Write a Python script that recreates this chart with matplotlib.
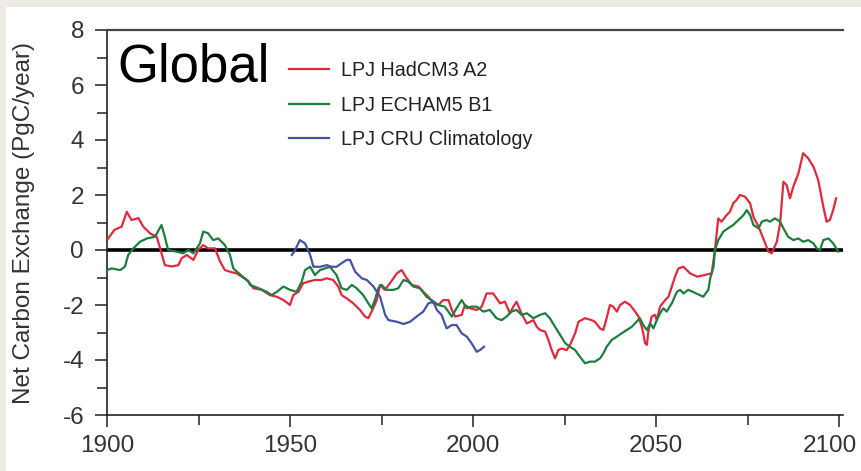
import matplotlib
matplotlib.use("Agg")
import matplotlib.pyplot as plt
import matplotlib.transforms as mtransforms
from matplotlib.patches import Rectangle
from matplotlib.ticker import MultipleLocator

plt.rcParams['font.family'] = ['Liberation Sans', 'DejaVu Sans']
plt.rcParams['axes.unicode_minus'] = False

# LPJ driven by HadCM3 A2
had_years = [1900.0, 1902.0, 1904.0, 1905.4, 1906.7, 1908.6, 1909.9, 1911.8, 1913.6, 1914.9,
             1915.8, 1917.7, 1919.5, 1920.4, 1921.8, 1923.6, 1924.9, 1926.3, 1927.6, 1929.5,
             1930.9, 1932.2, 1933.6, 1935.4, 1937.2, 1938.4, 1940.0, 1942.3, 1944.5, 1946.4,
             1948.2, 1950.0, 1950.9, 1952.3, 1953.6, 1955.0, 1956.8, 1958.6, 1960.0, 1961.8,
             1963.2, 1964.1, 1965.5, 1967.3, 1969.1, 1970.5, 1971.4, 1972.3, 1973.7, 1974.6,
             1975.9, 1977.3, 1979.2, 1980.5, 1981.9, 1983.3, 1985.1, 1986.4, 1987.8, 1989.2,
             1990.5, 1991.9, 1993.3, 1994.2, 1995.1, 1996.9, 1997.8, 1999.2, 2001.0, 2002.4,
             2003.7, 2005.5, 2007.4, 2008.7, 2010.1, 2011.0, 2011.9, 2013.2, 2014.7, 2016.5,
             2017.4, 2018.3, 2019.7, 2020.6, 2021.5, 2022.4, 2023.3, 2024.2, 2025.6, 2026.5,
             2027.9, 2028.8, 2030.6, 2032.4, 2033.3, 2034.7, 2035.6, 2036.5, 2037.4, 2038.3,
             2039.3, 2040.2, 2041.5, 2042.9, 2044.3, 2045.2, 2046.1, 2046.5, 2047.0, 2047.5,
             2047.9, 2048.8, 2049.7, 2050.2, 2051.1, 2052.5, 2053.4, 2054.3, 2055.2, 2056.1,
             2057.5, 2058.4, 2059.3, 2061.3, 2063.3, 2065.2, 2066.1, 2067.0, 2067.9, 2069.3,
             2070.2, 2071.1, 2072.0, 2072.9, 2074.3, 2075.7, 2076.6, 2078.0, 2079.3, 2080.7,
             2081.6, 2083.0, 2083.9, 2084.8, 2085.7, 2086.6, 2087.5, 2088.9, 2090.2, 2091.6,
             2093.0, 2094.3, 2095.7, 2096.6, 2097.5, 2098.4, 2099.2]
had_flux = [0.36, 0.73, 0.85, 1.39, 1.09, 1.16, 0.85, 0.60, 0.48, -0.12,
            -0.55, -0.60, -0.55, -0.30, -0.18, -0.36, 0.00, 0.18, 0.06, 0.06,
            -0.42, -0.73, -0.79, -0.85, -1.00, -1.10, -1.39, -1.45, -1.64, -1.70,
            -1.82, -2.00, -1.64, -1.52, -1.21, -1.15, -1.09, -1.09, -1.03, -1.09,
            -1.33, -1.64, -1.76, -1.94, -2.18, -2.42, -2.48, -2.24, -1.82, -1.27,
            -1.45, -1.21, -0.85, -0.73, -1.03, -1.27, -1.33, -1.52, -1.70, -1.94,
            -2.00, -1.82, -1.82, -2.18, -2.42, -2.36, -2.00, -2.12, -2.18, -2.06,
            -1.58, -1.58, -1.94, -1.88, -2.30, -2.06, -1.88, -2.30, -2.67, -2.55,
            -2.79, -2.91, -2.97, -3.27, -3.64, -3.94, -3.64, -3.58, -3.64, -3.45,
            -3.03, -2.61, -2.48, -2.55, -2.61, -2.85, -2.91, -2.48, -2.00, -2.06,
            -2.24, -2.00, -1.88, -2.00, -2.24, -2.42, -2.79, -3.03, -3.39, -3.45,
            -2.97, -2.42, -2.36, -2.55, -2.06, -1.82, -1.70, -1.33, -0.97, -0.67,
            -0.61, -0.73, -0.85, -0.97, -0.91, -0.85, 0.00, 1.15, 1.03, 1.27,
            1.39, 1.70, 1.82, 2.00, 1.94, 1.70, 1.21, 0.85, 0.42, -0.06,
            -0.12, 0.30, 0.97, 2.48, 2.36, 1.88, 2.30, 2.79, 3.52, 3.33,
            3.03, 2.55, 1.58, 1.03, 1.09, 1.45, 1.88]

# LPJ driven by ECHAM5 B1
ech_years = [1900.0, 1901.3, 1903.6, 1904.9, 1905.8, 1907.2, 1909.0, 1910.9, 1913.1, 1914.9,
             1915.8, 1916.7, 1919.0, 1920.8, 1922.2, 1923.6, 1925.4, 1926.3, 1927.6, 1929.0,
             1930.4, 1932.2, 1933.6, 1934.5, 1936.3, 1938.6, 1939.1, 1941.4, 1943.6, 1945.0,
             1946.4, 1948.2, 1950.0, 1951.8, 1953.2, 1954.1, 1955.5, 1956.8, 1958.2, 1959.6,
             1960.9, 1962.7, 1964.1, 1965.5, 1966.9, 1968.2, 1970.0, 1971.4, 1972.3, 1973.2,
             1974.1, 1975.0, 1976.4, 1978.2, 1979.6, 1981.0, 1982.3, 1983.7, 1985.5, 1987.3,
             1988.7, 1990.5, 1992.3, 1994.2, 1995.5, 1996.9, 1998.3, 1999.6, 2001.0, 2002.8,
             2004.6, 2006.4, 2007.8, 2009.2, 2010.5, 2011.9, 2013.3, 2014.7, 2016.5, 2018.3,
             2019.7, 2021.0, 2022.4, 2023.8, 2025.2, 2026.5, 2027.9, 2029.2, 2030.6, 2032.0,
             2033.3, 2034.7, 2035.6, 2036.5, 2037.9, 2039.3, 2040.6, 2042.0, 2043.4, 2044.7,
             2045.6, 2046.5, 2047.5, 2048.4, 2049.3, 2050.2, 2051.1, 2052.0, 2052.9, 2054.3,
             2055.7, 2056.6, 2057.5, 2058.8, 2060.5, 2062.9, 2064.3, 2064.8, 2065.7, 2066.1,
             2067.0, 2068.4, 2069.7, 2071.1, 2072.5, 2073.9, 2074.8, 2075.7, 2076.6, 2078.0,
             2078.9, 2080.2, 2081.1, 2082.5, 2083.9, 2084.8, 2086.1, 2087.5, 2088.9, 2090.2,
             2091.6, 2093.0, 2093.9, 2094.8, 2095.7, 2097.1, 2098.4, 2099.8]
ech_flux = [-0.73, -0.67, -0.73, -0.61, -0.18, 0.06, 0.30, 0.42, 0.48, 0.91,
            0.48, 0.00, -0.06, -0.12, 0.00, -0.12, 0.24, 0.67, 0.61, 0.36,
            0.42, 0.18, -0.18, -0.67, -0.88, -1.15, -1.27, -1.39, -1.52, -1.64,
            -1.52, -1.33, -1.45, -1.52, -1.15, -0.73, -0.61, -0.91, -0.73, -0.67,
            -0.61, -0.91, -1.39, -1.45, -1.27, -1.39, -1.64, -1.94, -2.12, -1.82,
            -1.39, -1.27, -1.45, -1.45, -1.39, -1.09, -1.15, -1.33, -1.39, -1.70,
            -1.82, -2.00, -2.06, -2.42, -2.12, -1.82, -2.12, -2.06, -2.06, -2.24,
            -2.18, -2.48, -2.55, -2.42, -2.24, -2.18, -2.36, -2.30, -2.48, -2.36,
            -2.30, -2.48, -2.79, -3.09, -3.39, -3.52, -3.64, -3.88, -4.12, -4.06,
            -4.06, -3.94, -3.76, -3.52, -3.27, -3.15, -3.03, -2.91, -2.79, -2.61,
            -2.48, -2.73, -2.91, -2.67, -2.85, -2.55, -2.30, -2.12, -2.24, -1.94,
            -1.52, -1.45, -1.58, -1.45, -1.55, -1.70, -1.45, -1.03, -0.61, 0.00,
            0.36, 0.67, 0.79, 0.91, 1.09, 1.27, 1.45, 1.27, 0.91, 0.79,
            1.03, 1.09, 1.03, 1.15, 1.03, 0.79, 0.48, 0.36, 0.42, 0.30,
            0.36, 0.24, 0.06, 0.00, 0.36, 0.42, 0.24, -0.06]

# LPJ driven by CRU climatology
cru_years = [1950.5, 1951.4, 1952.7, 1954.1, 1955.5, 1956.4, 1958.2, 1960.0, 1961.4, 1962.7,
             1964.1, 1965.5, 1966.4, 1967.8, 1969.6, 1971.0, 1972.8, 1974.6, 1976.0, 1976.9,
             1979.2, 1981.0, 1982.8, 1984.6, 1986.4, 1987.8, 1989.2, 1990.1, 1991.4, 1992.8,
             1994.2, 1995.5, 1996.9, 1998.3, 1999.6, 2001.0, 2001.9, 2003.0]
cru_flux = [-0.18, 0.00, 0.36, 0.24, -0.18, -0.61, -0.61, -0.55, -0.61, -0.61,
            -0.48, -0.36, -0.36, -0.79, -1.03, -1.09, -1.33, -1.70, -2.36, -2.55,
            -2.61, -2.69, -2.61, -2.42, -2.24, -1.94, -1.88, -2.18, -2.36, -2.85,
            -2.73, -2.73, -3.03, -3.15, -3.39, -3.70, -3.64, -3.52]

series_labels = ['LPJ HadCM3 A2', 'LPJ ECHAM5 B1', 'LPJ CRU Climatology']
series_colors = ['#e3283c', '#1c7f3e', '#4652a2']

x_ticks = [1900, 1950, 2000, 2050, 2100]
y_ticks = [-6, -4, -2, 0, 2, 4, 6, 8]

W, H = 861, 471
fig = plt.figure(figsize=(W / 100, H / 100), dpi=100, facecolor='white')

# pale frame strips along the top and left edges
beige = '#eeebe3'
fig.patches.append(Rectangle((0, 1 - 7 / H), 1, 7 / H, transform=fig.transFigure,
                             facecolor=beige, edgecolor='none', zorder=0))
fig.patches.append(Rectangle((0, 0), 6 / W, 1, transform=fig.transFigure,
                             facecolor=beige, edgecolor='none', zorder=0))

left, right = 107 / W, 842.7 / W
bottom, top = (H - 415) / H, (H - 30) / H
ax = fig.add_axes([left, bottom, right - left, top - bottom])
ax.set_facecolor('white')

ax.axhline(0, color='black', lw=2.6, zorder=1)

lines = []
for yrs, vals, lab, col in zip([had_years, ech_years, cru_years],
                               [had_flux, ech_flux, cru_flux],
                               series_labels, series_colors):
    ln, = ax.plot(yrs, vals, color=col, lw=1.6, label=lab, zorder=3,
                  solid_joinstyle='round')
    lines.append(ln)

ax.set_xlim(1900, 2101)
ax.set_ylim(-6, 8)

ax.set_xticks(x_ticks)
ax.set_yticks(y_ticks)
ax.xaxis.set_minor_locator(MultipleLocator(25))
ax.yaxis.set_minor_locator(MultipleLocator(1))

tick_color = '#333333'
ax.tick_params(axis='both', which='major', direction='out', length=8.5, width=1.1,
               colors='#222222', labelcolor=tick_color, labelsize=17.5)
ax.tick_params(axis='both', which='minor', direction='out', length=7.5, width=1.1,
               colors='#222222')
ax.tick_params(axis='y', which='major', pad=8)
ax.tick_params(axis='x', which='major', pad=6)

# keep the last year label inside the panel
last_label = ax.get_xticklabels()[-1]
last_label.set_transform(last_label.get_transform() +
                         mtransforms.ScaledTranslation(-9 / 100, 0, fig.dpi_scale_trans))

for side in ['left', 'bottom']:
    ax.spines[side].set_color('#222222')
    ax.spines[side].set_linewidth(1.2)
ax.spines['top'].set_color('#444444')
ax.spines['top'].set_linewidth(1.6)
ax.spines['right'].set_visible(False)

ax.set_ylabel('Net Carbon Exchange (PgC/year)', fontsize=17.5, color=tick_color)
ax.yaxis.set_label_coords(-0.098, 0.5)

fig.text(117 / W, (H - 82) / H, 'Global', fontsize=38, color='black',
         ha='left', va='baseline')

leg = ax.legend(handles=lines, loc='upper left', bbox_to_anchor=(0.2475, 0.92),
                frameon=False, fontsize=14.2, handlelength=2.0, handletextpad=0.65,
                labelspacing=0.8, borderaxespad=0, borderpad=0)
for t in leg.get_texts():
    t.set_color('#222222')

fig.savefig('out.png', dpi=100, facecolor=fig.get_facecolor())
